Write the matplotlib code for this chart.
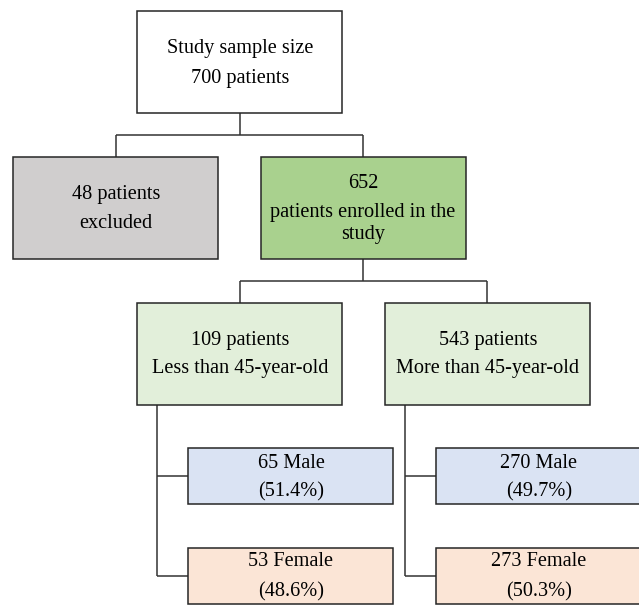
import matplotlib.pyplot as plt
from matplotlib.patches import Rectangle

plt.rcParams['font.family'] = ['Liberation Serif', 'DejaVu Serif']

# data
total = 700
excluded = 48
enrolled = 652
age_counts = [109, 543]
age_labels = ['Less than 45-year-old', 'More than 45-year-old']
male_counts = [65, 270]
male_pct = [51.4, 49.7]
female_counts = [53, 273]
female_pct = [48.6, 50.3]

W, H = 639, 606
fig = plt.figure(figsize=(W / 100, H / 100), dpi=100)
ax = fig.add_axes([0, 0, 1, 1])
ax.set_xlim(0, W)
ax.set_ylim(H, 0)
ax.axis('off')

FS = 14.6
EDGE = '#262626'


def box(x0, y0, x1, y1, color):
    ax.add_patch(Rectangle((x0, y0), x1 - x0, y1 - y0, facecolor=color,
                           edgecolor=EDGE, lw=1.1, zorder=2))


def line(xs, ys):
    ax.plot(xs, ys, color='#333333', lw=1.1, zorder=1, solid_capstyle='butt')


def txt(x, y, s):
    ax.text(x, y, s, ha='center', va='center', fontsize=FS, zorder=3)


# top box
box(137, 11, 342, 113, 'white')
txt(240, 48, 'Study sample size')
txt(240, 78, f'{total} patients')

line([240, 240], [113, 135])
line([116, 363], [135, 135])
line([116, 116], [135, 157])
line([363, 363], [135, 157])

# second row
box(13, 157, 218, 259, '#d0cece')
txt(116, 195, f'{excluded} patients')
txt(116, 223, 'excluded')

box(261, 157, 466, 259, '#a9d18e')
txt(363, 183, str(enrolled))
txt(363, 213, 'patients enrolled in the')
txt(363, 234, 'study')

line([363, 363], [259, 281])
line([240, 487], [281, 281])
line([240, 240], [281, 303])
line([487, 487], [281, 303])

# age groups and sex split
age_x = [137, 385]
for i in range(2):
    x0 = age_x[i]
    box(x0, 303, x0 + 205, 405, '#e2efda')
    txt(x0 + 103, 340, f'{age_counts[i]} patients')
    txt(x0 + 103, 369, age_labels[i])

    lx = x0 + 20
    line([lx, lx], [405, 576])
    line([lx, x0 + 51], [476, 476])
    line([lx, x0 + 51], [576, 576])

    bx = x0 + 51
    bw = 205 if i == 0 else 208
    box(bx, 448, bx + bw, 504, '#dae3f3')
    txt(bx + 103, 463, f'{male_counts[i]} Male')
    txt(bx + 103, 492, f'({male_pct[i]}%)')

    box(bx, 548, bx + bw, 604, '#fbe5d6')
    txt(bx + 103, 562, f'{female_counts[i]} Female')
    txt(bx + 103, 592, f'({female_pct[i]}%)')

fig.savefig('out.png', dpi=100)
